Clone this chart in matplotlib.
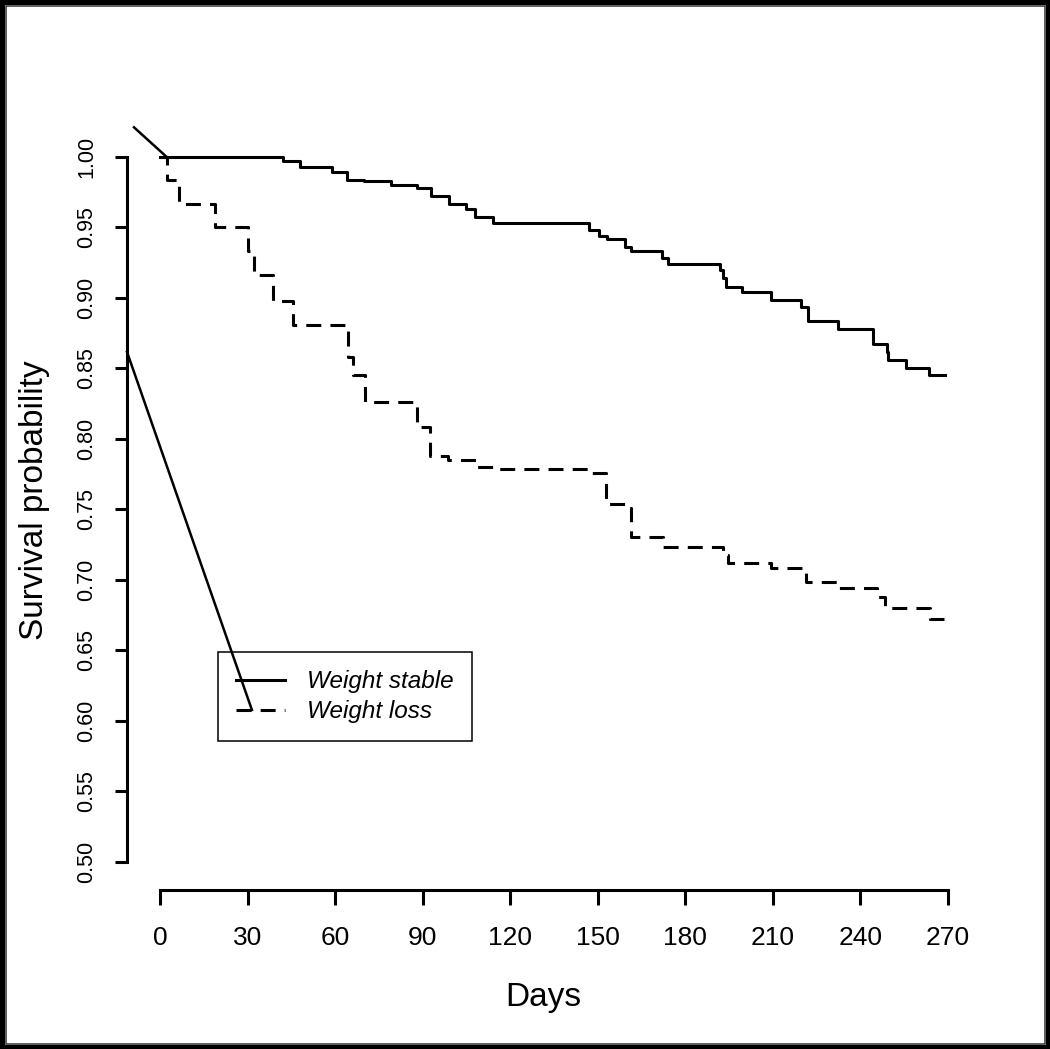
import matplotlib
matplotlib.use('Agg')
import matplotlib.pyplot as plt
from matplotlib.patches import Rectangle

plt.rcParams['font.family'] = ['Liberation Sans', 'DejaVu Sans']

# Kaplan-Meier step data
days_stable = [0, 42, 48, 59, 64, 70, 79, 88, 93, 99, 105, 108, 114, 147, 150.3, 153,
               159.3, 161.4, 172, 174, 192, 193, 194, 199.5, 209.5, 219.6, 222, 232.4,
               244.4, 249, 249.5, 255.6, 263.4, 269]
surv_stable = [1.0, 0.9974, 0.993, 0.989, 0.984, 0.983, 0.980, 0.978, 0.9726, 0.9665,
               0.963, 0.9577, 0.953, 0.948, 0.944, 0.9416, 0.9364, 0.9336, 0.928, 0.924,
               0.920, 0.914, 0.908, 0.904, 0.8986, 0.8934, 0.884, 0.8778, 0.8674, 0.8615,
               0.856, 0.8506, 0.845, 0.845]

days_loss = [0, 2.3, 6.5, 18.8, 30, 32.3, 38.8, 45.7, 64.5, 66, 70.2, 88, 92.5, 98.8,
             108.5, 114, 146.7, 152.8, 159.6, 161.4, 172.4, 193, 194.7, 209.5, 221.5,
             232.4, 245.5, 248.4, 263.8, 268.7]
surv_loss = [1.0, 0.984, 0.9667, 0.9506, 0.933, 0.9163, 0.898, 0.8809, 0.858, 0.845,
             0.8265, 0.8087, 0.788, 0.785, 0.7803, 0.779, 0.776, 0.754, 0.751, 0.7303,
             0.7236, 0.7177, 0.7123, 0.7083, 0.6988, 0.6941, 0.688, 0.680, 0.6723, 0.6723]

labels = ['Weight stable', 'Weight loss']
x_ticks = [0, 30, 60, 90, 120, 150, 180, 210, 240, 270]
y_ticks = [0.50, 0.55, 0.60, 0.65, 0.70, 0.75, 0.80, 0.85, 0.90, 0.95, 1.00]

# stray pointer lines in the original figure
stray1_x = [-8.9, 2.3]
stray1_y = [1.021, 1.0]
stray2_x = [-11.3, 31.5]
stray2_y = [0.8617, 0.6078]

W, H = 1050, 1049
fig = plt.figure(figsize=(W / 100, H / 100), dpi=100)
ax = fig.add_axes([127 / W, 1 - 890 / H, (960 - 127) / W, (890 - 110) / H])
ax.set_xlim(-11.3, 274.1)
ax.set_ylim(0.4801, 1.0333)

lw = 2.2
l1, = ax.step(days_stable, surv_stable, where='post', color='black', lw=lw)
l2, = ax.step(days_loss, surv_loss, where='post', color='black', lw=lw,
              linestyle=(0, (4.9, 3.0)))

ax.plot(stray1_x, stray1_y, color='black', lw=1.8, clip_on=False, zorder=10)
ax.plot(stray2_x, stray2_y, color='black', lw=1.8, clip_on=False, zorder=10)

for s in ['top', 'right']:
    ax.spines[s].set_visible(False)
ax.spines['left'].set_bounds(0.5, 1.0)
ax.spines['bottom'].set_bounds(0, 270)
ax.spines['left'].set_linewidth(2.2)
ax.spines['bottom'].set_linewidth(2.2)

ax.set_xticks(x_ticks)
ax.set_yticks(y_ticks)
ax.set_yticklabels([f'{v:.2f}' for v in y_ticks], rotation=90, va='center')
ax.tick_params(axis='y', direction='out', length=8.6, width=2.2, labelsize=15.5, pad=13)
ax.tick_params(axis='x', direction='out', length=11, width=2.2, labelsize=19, pad=15)

ax.set_xlabel('Days', fontsize=24, labelpad=23)
ax.set_ylabel('Survival probability', fontsize=24, labelpad=19)

leg = ax.legend([l1, l2], labels, loc='upper left',
                bbox_to_anchor=(218 / W, 1 - 652 / H), bbox_transform=fig.transFigure,
                borderaxespad=0, fancybox=False, edgecolor='black', framealpha=1,
                prop={'size': 17.5, 'style': 'italic'},
                handlelength=2.0, handletextpad=0.9, borderpad=0.75, labelspacing=0.28)
leg.get_frame().set_linewidth(1.1)
leg.set_zorder(5)

# frame around the whole picture
fig.patches.append(Rectangle((0, 0), 1, 1, transform=fig.transFigure, fill=False,
                             edgecolor='black', lw=6.5))
fig.patches.append(Rectangle((5.5 / W, 5.5 / H), 1 - 11 / W, 1 - 11 / H,
                             transform=fig.transFigure, fill=False,
                             edgecolor='#333333', lw=1.1))

fig.savefig('out.png', dpi=100)
